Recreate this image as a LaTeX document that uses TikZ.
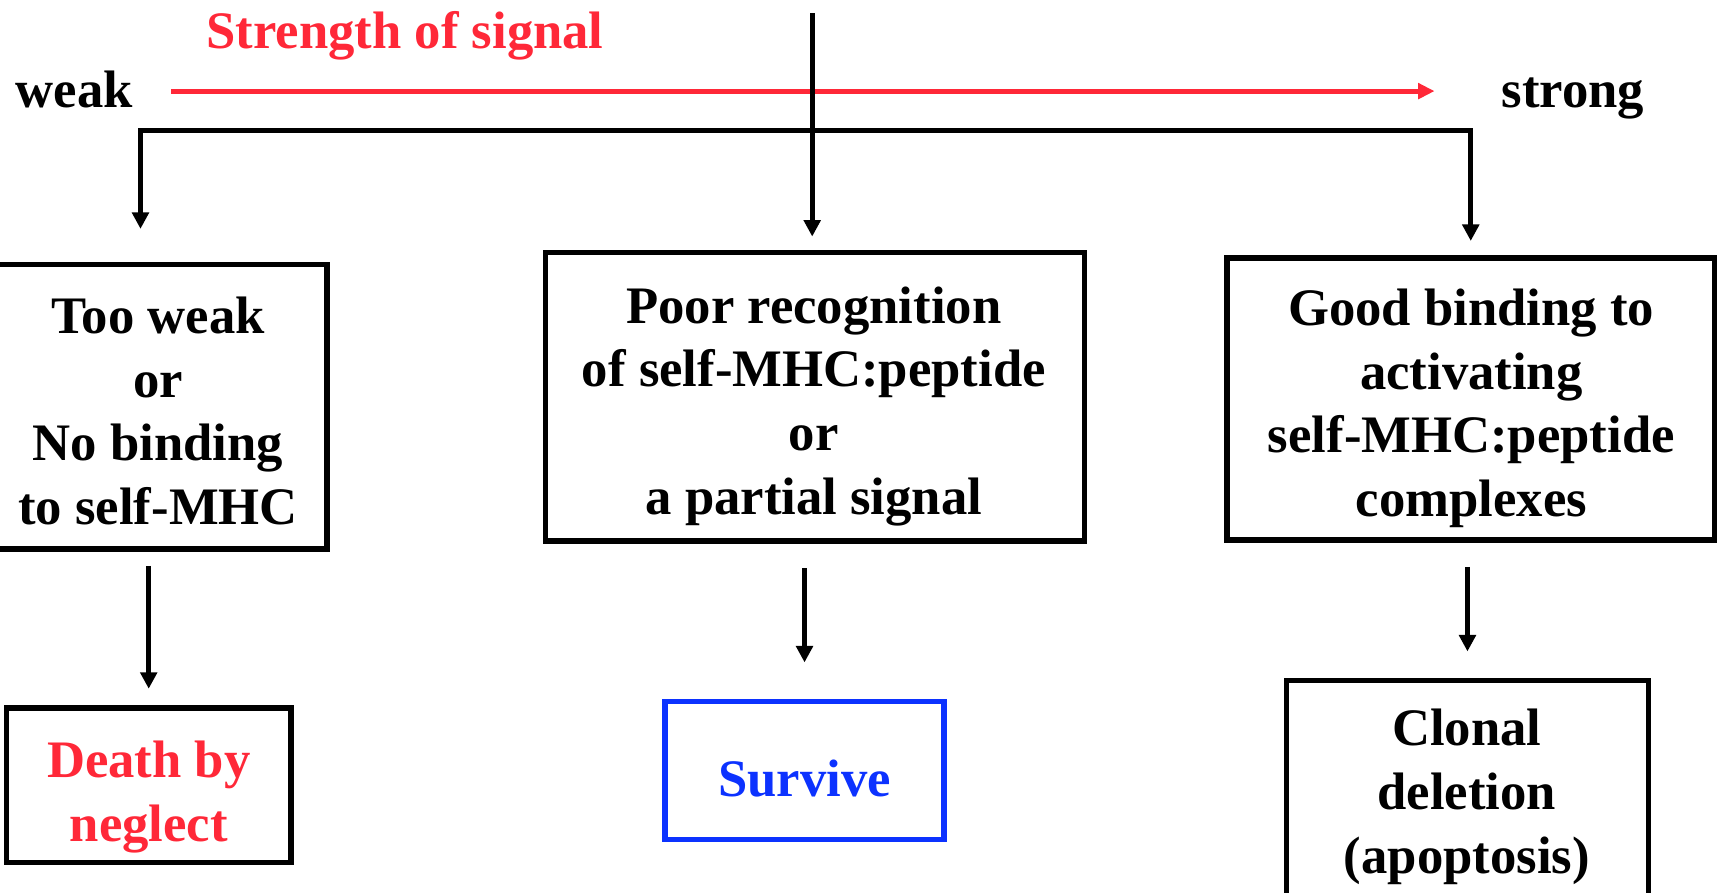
\documentclass[tikz,border=0pt]{standalone}
\usepackage{fontspec}
\setmainfont{Liberation Serif}
\usetikzlibrary{arrows.meta,calc}
\definecolor{sigred}{RGB}{255,40,56}
\definecolor{survblue}{RGB}{12,50,255}
\begin{document}
\begin{tikzpicture}[x=1pt,y=-1pt,
  box/.style={draw, line width=5pt, rectangle, inner sep=0pt},
  txt/.style={font=\fontsize{48}{58}\selectfont\bfseries, align=center, inner sep=0pt},
  arr/.style={line width=4.5pt, -{Triangle[width=15pt,length=15pt]}},
  bracket/.style={line width=4.5pt, {Triangle[width=15pt,length=15pt]}-{Triangle[width=15pt,length=15pt]}},
  redarr/.style={draw=sigred, line width=4.5pt, -{Triangle[width=14pt,length=15pt]}, sigred}
]
\useasboundingbox (0,0) rectangle (1568,813);
% top labels
\node[txt, text=sigred, anchor=base west] (title) at (188,44) {Strength of signal};
\node[txt, anchor=base west] (weak) at (14,98) {weak};
\node[txt, anchor=base west] (strong) at (1368,98) {strong};
\coordinate (ry) at (0,83);
\draw[redarr, shorten <=35pt, shorten >=61pt] (weak.east |- ry) -- (strong.west |- ry);
% boxes
\node[box, minimum width=310pt, minimum height=259pt] (b1) at (143,370.5) {};
\node[box, minimum width=491pt, minimum height=263pt] (b2) at (742.5,361.5) {};
\node[box, minimum width=444pt, minimum height=257pt] (b3) at (1340,363.5) {};
\node[box, minimum width=259pt, minimum height=141pt] (s1) at (135.5,715.5) {};
\node[box, draw=survblue, minimum width=254pt, minimum height=126pt] (s2) at (733,702) {};
\node[box, minimum width=330pt, minimum height=220pt] (s3) at (1337,730) {};
% texts
\node[txt] (t1) at (144,374.5) {Too weak\\or\\No binding\\to self-MHC};
\node[txt] (t2) at (741.5,370.2) {Poor recognition\\of self-MHC:peptide\\or\\a partial signal};
\node[txt] (t3) at (1340.5,372) {Good binding to\\activating\\self-MHC:peptide\\complexes};
\node[txt, text=sigred] (u1) at (135.5,726) {Death by\\neglect};
\node[txt, text=survblue] (u2) at (733,709.5) {Survive};
\node[txt] (u3) at (1336.5,726) {Clonal\\deletion\\(apoptosis)};
% bracket
\coordinate (bl) at (128,119);
\coordinate (br) at (1340,119);
\draw[bracket, shorten <=30pt, shorten >=13pt] (b1.north -| bl) -- (bl) -- (br) -- (b3.north -| br);
% central line
\coordinate (topc) at (740,12);
\draw[arr, shorten >=12pt] (topc) -- (topc |- b2.north);
% lower arrows
\draw[arr, shorten <=13pt, shorten >=15pt] (b1.south -| s1.north) -- (s1.north);
\draw[arr, shorten <=22pt, shorten >=33pt] (b2.south -| s2.north) -- (s2.north);
\draw[arr, shorten <=22pt, shorten >=24pt] (b3.south -| s3.north) -- (s3.north);
\end{tikzpicture}
\end{document}
